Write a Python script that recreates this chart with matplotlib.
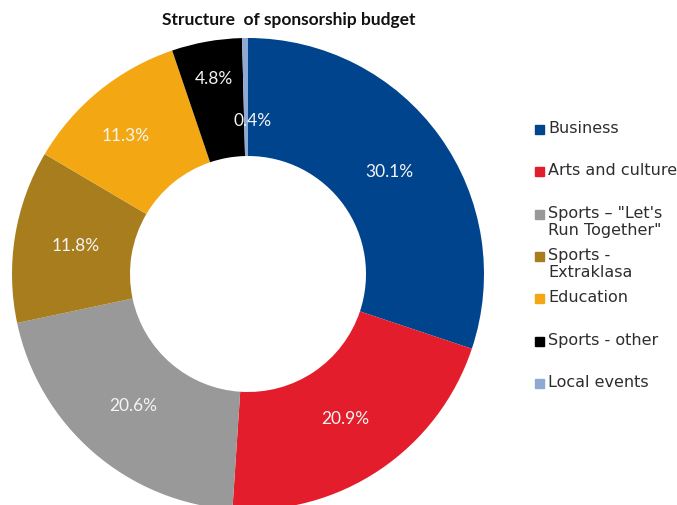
import matplotlib
matplotlib.use("Agg")
import matplotlib.pyplot as plt
from matplotlib.patches import Rectangle

# --- Data ---
TITLE = "Structure  of sponsorship budget"
categories = ["Business", "Arts and culture", "Sports \u2013 \"Let's\nRun Together\"",
              "Sports -\nExtraklasa", "Education", "Sports - other", "Local events"]
shares = [30.1, 20.9, 20.6, 11.8, 11.3, 4.8, 0.4]
colors = ["#00448E", "#E31D2B", "#999999", "#A87D1E", "#F3A813", "#000000", "#8EA9D2"]

W, H = 677, 505
fig = plt.figure(figsize=(W / 100, H / 100), dpi=100)

# donut: centre (248, 274) px from top-left, outer radius 236 px
cx, cy, r = 248, 274, 236
ax = fig.add_axes([(cx - r) / W, (H - cy - r) / H, 2 * r / W, 2 * r / H])
total = sum(shares)
wedges, _, autotexts = ax.pie(
    shares, colors=colors, startangle=90, counterclock=False,
    radius=1.0, wedgeprops=dict(width=0.5, edgecolor="none"),
    autopct=lambda p: f"{p * total / 100:.1f}%", pctdistance=0.74,
    textprops=dict(color="#F4F4F4", fontsize=12.5, family="Lato"))
ax.set_xlim(-1, 1)
ax.set_ylim(-1, 1)
ax.set_aspect("equal")
ax.axis("off")

# small slices: labels nudged by hand (pixels) so they don't collide
nudge = {4: (-12, -2), 5: (-3, -23), 6: (7, 22)}
for i, (dx, dy) in nudge.items():
    x, y = autotexts[i].get_position()
    autotexts[i].set_position((x + dx / r, y - dy / r))

fig.text(289 / W, 1 - 20 / H, TITLE, ha="center", va="center",
         fontsize=12.5, fontweight="bold", family="Lato", color="#111111")

# legend, drawn by hand so the two-line entries wrap like the original
y0, step = 129, 42.3
for i, (lab, col) in enumerate(zip(categories, colors)):
    y = y0 + i * step
    fig.patches.append(Rectangle(((535) / W, 1 - (y + 5) / H), 9 / W, 9 / H,
                                 transform=fig.transFigure, color=col))
    fig.text(548 / W, 1 - (y - 8) / H, lab, ha="left", va="top",
             fontsize=11.5, family="DejaVu Sans", color="#2E2E2E",
             linespacing=1.2)

fig.savefig("out.png", dpi=100)
